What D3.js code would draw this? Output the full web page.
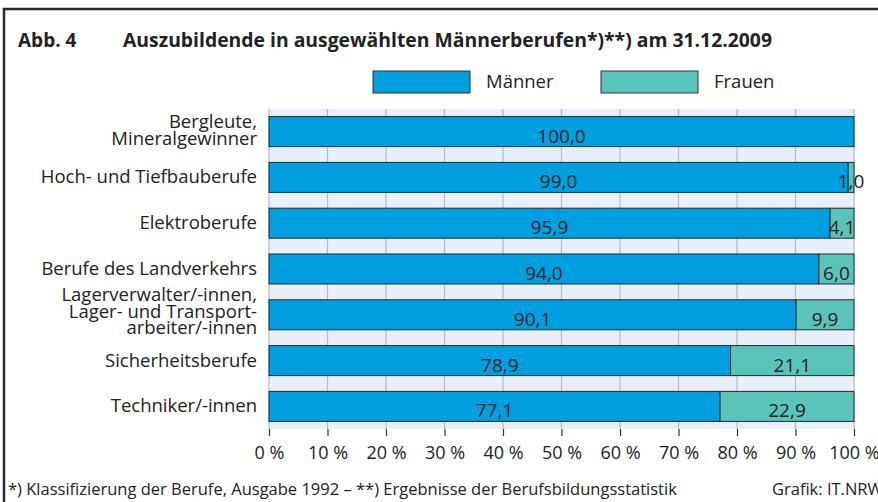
<!DOCTYPE html>
<html>
<head>
<meta charset="utf-8">
<script src="https://cdn.jsdelivr.net/npm/d3@7"></script>
<style>
  html, body { margin: 0; padding: 0; background: #fff; }
  svg { display: block; }
  text { font-family: "Open Sans", "Noto Sans", sans-serif; fill: #222; }
</style>
</head>
<body>
<svg id="chart" width="878" height="502"></svg>
<script>
const categories = [
  "Bergleute,\nMineralgewinner",
  "Hoch- und Tiefbauberufe",
  "Elektroberufe",
  "Berufe des Landverkehrs",
  "Lagerverwalter/-innen,\nLager- und Transport-\narbeiter/-innen",
  "Sicherheitsberufe",
  "Techniker/-innen"
];
const maenner = [100.0, 99.0, 95.9, 94.0, 90.1, 78.9, 77.1];
const frauen  = [0.0, 1.0, 4.1, 6.0, 9.9, 21.1, 22.9];
const seriesNames = ["Männer", "Frauen"];
const tickValues = [0, 10, 20, 30, 40, 50, 60, 70, 80, 90, 100];
const titleNum = "Abb. 4";
const titleText = "Auszubildende in ausgewählten Männerberufen*)**) am 31.12.2009";
const footnote = "*) Klassifizierung der Berufe, Ausgabe 1992 – **) Ergebnisse der Berufsbildungsstatistik";
const credit = "Grafik: IT.NRW";

const colors = { "Männer": "#009FE0", "Frauen": "#5BC4BA" };
const fmt = v => v.toFixed(1).replace(".", ",");

const svg = d3.select("#chart");
const plot = { left: 269, right: 854, top: 109, bottom: 429 };

// frame
svg.append("rect").attr("x", 4).attr("y", 9).attr("width", 1000).attr("height", 1000)
  .attr("fill", "#fff").attr("stroke", "#2a2a2a").attr("stroke-width", 2.5);

// title
svg.append("text").attr("x", 18).attr("y", 47).attr("font-weight", "bold").attr("font-size", 19)
  .text(titleNum);
svg.append("text").attr("x", 123).attr("y", 47).attr("font-weight", "bold").attr("font-size", 19)
  .attr("textLength", 649).attr("lengthAdjust", "spacingAndGlyphs")
  .text(titleText);

// legend
const legendX = [373, 601];
seriesNames.forEach((s, i) => {
  svg.append("rect").attr("x", legendX[i]).attr("y", 71).attr("width", 97).attr("height", 22)
    .attr("fill", colors[s]).attr("stroke", "#333").attr("stroke-width", 1);
  svg.append("text").attr("x", legendX[i] + 113).attr("y", 88).attr("font-size", 18.5).text(s);
});

const x = d3.scaleLinear().domain([0, 100]).range([plot.left, plot.right]);
const y = d3.scaleBand().domain(categories).range([plot.top, plot.bottom])
  .paddingInner(0.345).paddingOuter(0.166);

// plot background
svg.append("rect").attr("x", plot.left).attr("y", plot.top)
  .attr("width", x(100) - x(0)).attr("height", plot.bottom - plot.top)
  .attr("fill", "#E8EFF8");

// grid lines
svg.append("g").selectAll("line").data(tickValues).join("line")
  .attr("x1", d => x(d)).attr("x2", d => x(d))
  .attr("y1", plot.top).attr("y2", plot.bottom)
  .attr("stroke", "#B5BBC3").attr("stroke-width", 1.2);

// x axis
const xAxis = d3.axisBottom(x).tickValues(tickValues).tickSize(7).tickPadding(10)
  .tickFormat(d => d + " %");
const gx = svg.append("g").attr("transform", `translate(0,${plot.bottom})`).call(xAxis);
gx.select(".domain").remove();
gx.selectAll(".tick line").attr("stroke", "#333").attr("stroke-width", 1.2);
gx.selectAll(".tick text").attr("font-size", 18).attr("fill", "#222")
  .attr("font-family", '"Open Sans", sans-serif');

// bars
const rows = categories.map((c, i) => ({ c, m: maenner[i], f: frauen[i] }));
const bw = y.bandwidth();
const g = svg.append("g");
rows.forEach(r => {
  g.append("rect").attr("x", x(0)).attr("y", y(r.c)).attr("width", x(r.m) - x(0)).attr("height", bw)
    .attr("fill", colors["Männer"]).attr("stroke", "#1f2a30").attr("stroke-width", 1);
  if (r.f > 0) {
    g.append("rect").attr("x", x(r.m)).attr("y", y(r.c)).attr("width", x(r.m + r.f) - x(r.m)).attr("height", bw)
      .attr("fill", colors["Frauen"]).attr("stroke", "#1f2a30").attr("stroke-width", 1);
  }
  const cy = y(r.c) + bw / 2;
  g.append("text").attr("x", x(r.m / 2)).attr("y", cy + 11).attr("text-anchor", "middle")
    .attr("font-size", 19).text(fmt(r.m));
  if (r.f > 0) {
    g.append("text").attr("x", x(r.m + r.f / 2)).attr("y", cy + 11).attr("text-anchor", "middle")
      .attr("font-size", 19).text(fmt(r.f));
  }
});

// category labels
const lh = 16.6;
categories.forEach(c => {
  const lines = c.split("\n");
  const cy = y(c) + bw / 2;
  const t = svg.append("text").attr("text-anchor", "end").attr("font-size", 18.5);
  lines.forEach((ln, i) => {
    t.append("tspan").attr("x", 257)
      .attr("y", cy + 6 + (i - (lines.length - 1) / 2) * lh - (lines.length === 3 ? 3 : 0)
        + (lines.length === 2 ? -1 : 0))
      .text(ln);
  });
});

// footer
svg.append("text").attr("x", 8).attr("y", 495).attr("font-size", 16.5).text(footnote);
svg.append("text").attr("x", 772).attr("y", 495).attr("font-size", 16.5).text(credit);
</script>
</body>
</html>
